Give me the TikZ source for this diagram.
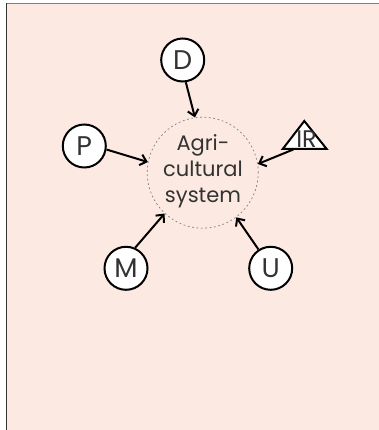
\documentclass[tikz,border=0pt]{standalone}
\usepackage{fontspec}
\setmainfont{Poppins}
\usetikzlibrary{arrows.meta}
\definecolor{bgpink}{RGB}{252,233,226}
\definecolor{ink}{RGB}{51,51,51}
\begin{document}
\begin{tikzpicture}[x=1pt,y=-1pt,
  agent/.style={circle, draw=black, fill=white, line width=2pt,
    minimum size=43pt, inner sep=0pt, text=ink,
    font=\fontsize{27}{30}\selectfont},
  feed/.style={line width=2pt,
    -{Straight Barb[length=6pt,width=11pt,line width=2pt]}},
  label/.style={text=ink, align=center, font=\fontsize{21}{26}\selectfont}]
\useasboundingbox (0,0) rectangle (379,430);
% page panel with its top and left rules
\fill[bgpink] (6.5,3.5) rectangle (379,430);
\draw[gray, line width=1.2pt] (6,3.5) -- (379,3.5);
\draw[ink, line width=1.1pt] (6.5,3) -- (6.5,430);

% the system boundary and its label
\node[circle, minimum size=111pt, inner sep=0pt, draw=gray,
  line width=0.7pt, dash pattern=on 1.8pt off 2.6pt] (sys) at (202.7,172.7) {};
\node[label] (systext) at (203,171) {Agri-\\cultural\\system};

% influences
\node[agent] (D) at (182.7,60) {D};
\node[agent] (P) at (84.3,146) {P};
\node[agent] (M) at (126,268.3) {M};
\node[agent] (U) at (270.7,268.3) {U};

% triangular marker with its text
\draw[line width=2pt, fill=white, line join=miter]
  (304.3,121) -- (326.7,149) -- (282.7,149) -- cycle;
\node[text=ink, inner sep=0pt, font=\fontsize{24}{26}\selectfont] (IR) at (306.5,139.5) {IR};
\coordinate (irfoot) at (293.3,149.5);

% arrows into the system
\draw[feed] (D.-82.7) -- (sys.98.6);
\draw[feed] (P.-9.9) -- (sys.169.5);
\draw[feed] (irfoot) -- (sys.9.8);
\draw[feed] (M.66.8) -- (sys.227.7);
\draw[feed] (U.123) -- (sys.-53.3);
\end{tikzpicture}
\end{document}
